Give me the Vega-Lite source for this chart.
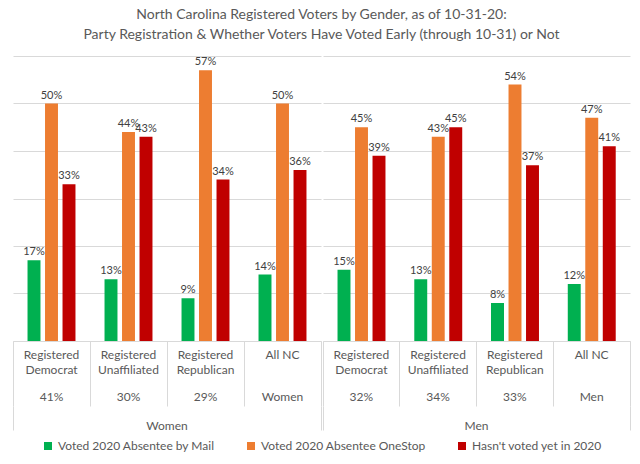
{
  "$schema": "https://vega.github.io/schema/vega-lite/v6.json",
  "title": {
    "text": [
      "North Carolina Registered Voters by Gender, as of 10-31-20:",
      "Party Registration & Whether  Voters Have Voted Early (through 10-31) or Not"
    ],
    "fontSize": 14,
    "fontWeight": "normal",
    "color": "#595959",
    "lineHeight": 20,
    "anchor": "middle",
    "offset": 14
  },
  "padding": {"left": 12, "right": 13, "top": 8, "bottom": 5},
  "data": {
    "values": [
      {"gender": "Women", "group": "Registered|Democrat", "pct": "41%", "status": "Voted 2020 Absentee by Mail", "share": 0.17},
      {"gender": "Women", "group": "Registered|Democrat", "pct": "41%", "status": "Voted 2020 Absentee OneStop", "share": 0.50},
      {"gender": "Women", "group": "Registered|Democrat", "pct": "41%", "status": "Hasn't voted yet in 2020", "share": 0.33},
      {"gender": "Women", "group": "Registered|Unaffiliated", "pct": "30%", "status": "Voted 2020 Absentee by Mail", "share": 0.13},
      {"gender": "Women", "group": "Registered|Unaffiliated", "pct": "30%", "status": "Voted 2020 Absentee OneStop", "share": 0.44},
      {"gender": "Women", "group": "Registered|Unaffiliated", "pct": "30%", "status": "Hasn't voted yet in 2020", "share": 0.43},
      {"gender": "Women", "group": "Registered|Republican", "pct": "29%", "status": "Voted 2020 Absentee by Mail", "share": 0.09},
      {"gender": "Women", "group": "Registered|Republican", "pct": "29%", "status": "Voted 2020 Absentee OneStop", "share": 0.57},
      {"gender": "Women", "group": "Registered|Republican", "pct": "29%", "status": "Hasn't voted yet in 2020", "share": 0.34},
      {"gender": "Women", "group": "All NC", "pct": "Women", "status": "Voted 2020 Absentee by Mail", "share": 0.14},
      {"gender": "Women", "group": "All NC", "pct": "Women", "status": "Voted 2020 Absentee OneStop", "share": 0.50},
      {"gender": "Women", "group": "All NC", "pct": "Women", "status": "Hasn't voted yet in 2020", "share": 0.36},
      {"gender": "Men", "group": "Registered|Democrat", "pct": "32%", "status": "Voted 2020 Absentee by Mail", "share": 0.15},
      {"gender": "Men", "group": "Registered|Democrat", "pct": "32%", "status": "Voted 2020 Absentee OneStop", "share": 0.45},
      {"gender": "Men", "group": "Registered|Democrat", "pct": "32%", "status": "Hasn't voted yet in 2020", "share": 0.39},
      {"gender": "Men", "group": "Registered|Unaffiliated", "pct": "34%", "status": "Voted 2020 Absentee by Mail", "share": 0.13},
      {"gender": "Men", "group": "Registered|Unaffiliated", "pct": "34%", "status": "Voted 2020 Absentee OneStop", "share": 0.43},
      {"gender": "Men", "group": "Registered|Unaffiliated", "pct": "34%", "status": "Hasn't voted yet in 2020", "share": 0.45},
      {"gender": "Men", "group": "Registered|Republican", "pct": "33%", "status": "Voted 2020 Absentee by Mail", "share": 0.08},
      {"gender": "Men", "group": "Registered|Republican", "pct": "33%", "status": "Voted 2020 Absentee OneStop", "share": 0.54},
      {"gender": "Men", "group": "Registered|Republican", "pct": "33%", "status": "Hasn't voted yet in 2020", "share": 0.37},
      {"gender": "Men", "group": "All NC", "pct": "Men", "status": "Voted 2020 Absentee by Mail", "share": 0.12},
      {"gender": "Men", "group": "All NC", "pct": "Men", "status": "Voted 2020 Absentee OneStop", "share": 0.47},
      {"gender": "Men", "group": "All NC", "pct": "Men", "status": "Hasn't voted yet in 2020", "share": 0.41}
    ]
  },
  "hconcat": [
    {
      "width": 308,
      "height": 285,
      "transform": [{"filter": "datum.gender === 'Women'"}],
      "layer": [
        {
          "encoding": {
            "x": {"field": "group", "type": "nominal", "sort": null, "scale": {"paddingInner": 0, "paddingOuter": 0}, "axis": {"title": null, "orient": "bottom", "labelAngle": 0, "labelExpr": "split(datum.label, '|')", "bandPosition": 1, "tickExtra": true, "tickSize": 65, "labelPadding": -57, "labelLineHeight": 15, "labelOverlap": false, "labelLimit": 0, "domain": true}},
            "xOffset": {"field": "status", "type": "nominal", "sort": ["Voted 2020 Absentee by Mail", "Voted 2020 Absentee OneStop", "Hasn't voted yet in 2020"], "scale": {"paddingInner": 0.26, "paddingOuter": 0.83}},
            "y": {"field": "share", "type": "quantitative", "scale": {"domain": [0, 0.6]}, "axis": {"title": null, "labels": false, "ticks": false, "domain": false, "values": [0, 0.1, 0.2, 0.3, 0.4, 0.5, 0.6]}}
          },
          "layer": [
            {
              "mark": {"type": "bar"},
              "encoding": {
                "color": {"field": "status", "type": "nominal", "scale": {"domain": ["Voted 2020 Absentee by Mail", "Voted 2020 Absentee OneStop", "Hasn't voted yet in 2020"], "range": ["#00B050", "#ED7D31", "#C00000"]}, "legend": {"title": null}}
              }
            },
            {
              "mark": {"type": "text", "dy": -8, "fontSize": 11, "color": "#404040"},
              "encoding": {
                "text": {"field": "share", "type": "quantitative", "format": ".0%"}
              }
            }
          ]
        },
        {
          "mark": {"type": "rule", "opacity": 0},
          "encoding": {
            "x": {"field": "pct", "type": "nominal", "sort": null, "scale": {"type": "band", "paddingInner": 0, "paddingOuter": 0}, "axis": {"title": null, "orient": "bottom", "labelAngle": 0, "ticks": false, "domain": false, "labelPadding": 50, "labelOverlap": false}}
          }
        },
        {
          "mark": {"type": "rule", "opacity": 0},
          "encoding": {
            "x": {"field": "gender", "type": "nominal", "scale": {"type": "band", "paddingInner": 0, "paddingOuter": 0}, "axis": {"title": null, "orient": "bottom", "labelAngle": 0, "offset": 65, "bandPosition": 1, "tickExtra": true, "tickSize": 24, "labelPadding": -10, "domain": false}}
          }
        }
      ],
      "resolve": {"scale": {"x": "independent"}, "axis": {"x": "independent"}}
    },
    {
      "width": 307,
      "height": 285,
      "transform": [{"filter": "datum.gender === 'Men'"}],
      "layer": [
        {
          "encoding": {
            "x": {"field": "group", "type": "nominal", "sort": null, "scale": {"paddingInner": 0, "paddingOuter": 0}, "axis": {"title": null, "orient": "bottom", "labelAngle": 0, "labelExpr": "split(datum.label, '|')", "bandPosition": 1, "tickExtra": true, "tickSize": 65, "labelPadding": -57, "labelLineHeight": 15, "labelOverlap": false, "labelLimit": 0, "domain": true}},
            "xOffset": {"field": "status", "type": "nominal", "sort": ["Voted 2020 Absentee by Mail", "Voted 2020 Absentee OneStop", "Hasn't voted yet in 2020"], "scale": {"paddingInner": 0.26, "paddingOuter": 0.83}},
            "y": {"field": "share", "type": "quantitative", "scale": {"domain": [0, 0.6]}, "axis": {"title": null, "labels": false, "ticks": false, "domain": false, "values": [0, 0.1, 0.2, 0.3, 0.4, 0.5, 0.6]}}
          },
          "layer": [
            {
              "mark": {"type": "bar"},
              "encoding": {
                "color": {"field": "status", "type": "nominal", "scale": {"domain": ["Voted 2020 Absentee by Mail", "Voted 2020 Absentee OneStop", "Hasn't voted yet in 2020"], "range": ["#00B050", "#ED7D31", "#C00000"]}, "legend": {"title": null}}
              }
            },
            {
              "mark": {"type": "text", "dy": -8, "fontSize": 11, "color": "#404040"},
              "encoding": {
                "text": {"field": "share", "type": "quantitative", "format": ".0%"}
              }
            }
          ]
        },
        {
          "mark": {"type": "rule", "opacity": 0},
          "encoding": {
            "x": {"field": "pct", "type": "nominal", "sort": null, "scale": {"type": "band", "paddingInner": 0, "paddingOuter": 0}, "axis": {"title": null, "orient": "bottom", "labelAngle": 0, "ticks": false, "domain": false, "labelPadding": 50, "labelOverlap": false}}
          }
        },
        {
          "mark": {"type": "rule", "opacity": 0},
          "encoding": {
            "x": {"field": "gender", "type": "nominal", "scale": {"type": "band", "paddingInner": 0, "paddingOuter": 0}, "axis": {"title": null, "orient": "bottom", "labelAngle": 0, "offset": 65, "bandPosition": 1, "tickExtra": true, "tickSize": 24, "labelPadding": -10, "domain": false}}
          }
        }
      ],
      "resolve": {"scale": {"x": "independent"}, "axis": {"x": "independent"}}
    }
  ],
  "spacing": 0,
  "config": {
    "font": "Lato",
    "view": {"stroke": null},
    "axis": {
      "labelFont": "Lato",
      "labelFontSize": 12,
      "labelColor": "#595959",
      "tickColor": "#D9D9D9",
      "domainColor": "#D9D9D9",
      "gridColor": "#D9D9D9",
      "tickWidth": 1
    },
    "legend": {
      "orient": "bottom",
      "direction": "horizontal",
      "layout": {"bottom": {"anchor": "middle"}},
      "symbolType": "square",
      "symbolSize": 64,
      "symbolStrokeWidth": 0,
      "labelFontSize": 12,
      "labelColor": "#595959",
      "labelLimit": 0,
      "columnPadding": 30,
      "offset": 9
    }
  }
}
